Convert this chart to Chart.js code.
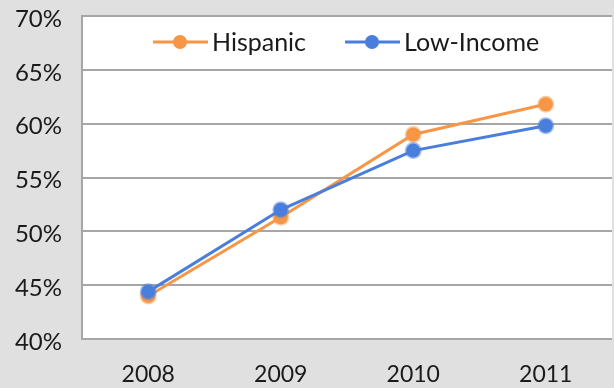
<!DOCTYPE html>
<html>
<head>
  <title>Hispanic vs Low-Income</title>
  <style>
    body {
      margin: 0;
      background-color: #E0E0E0;
      overflow: hidden;
    }

    #wrap {
      width: 622px;
      height: 388px;
      position: relative;
    }
  </style>
</head>
<body>
  <div id="wrap">
    <canvas id="chart"></canvas>
  </div>

  <script src="https://cdn.jsdelivr.net/npm/chart.js"></script>

  <script>
    // chart data
    var years = ['2008', '2009', '2010', '2011'];
    var hispanic = [44.0, 51.3, 59.0, 61.8];
    var lowIncome = [44.4, 52.0, 57.5, 59.8];
    var yTicks = [40, 45, 50, 55, 60, 65, 70];

    var orange = '#F79646';
    var blue = '#4A7EDC';
    var fontName = 'Lato, "Open Sans", sans-serif';

    // gray page, white plot area
    var backgroundPlugin = {
      id: 'background',
      beforeDraw: function(chart) {
        var ctx = chart.ctx;
        var area = chart.chartArea;
        ctx.save();
        ctx.fillStyle = '#E0E0E0';
        ctx.fillRect(0, 0, chart.width, chart.height);
        ctx.fillStyle = '#FFFFFF';
        ctx.fillRect(area.left, area.top, area.right - area.left, area.bottom - area.top);
        ctx.restore();
      }
    };

    // legend with a line and marker, drawn inside the plot
    var legendPlugin = {
      id: 'lineLegend',
      afterDraw: function(chart) {
        var ctx = chart.ctx;
        var y = chart.chartArea.top + 26;
        var items = [
          { x: 153, ds: chart.data.datasets[0] },
          { x: 345, ds: chart.data.datasets[1] }
        ];
        ctx.save();
        ctx.font = '25px ' + fontName;
        ctx.textBaseline = 'middle';
        items.forEach(function(item) {
          ctx.strokeStyle = item.ds.borderColor;
          ctx.lineWidth = 3;
          ctx.beginPath();
          ctx.moveTo(item.x, y);
          ctx.lineTo(item.x + 55, y);
          ctx.stroke();
          ctx.fillStyle = item.ds.borderColor;
          ctx.beginPath();
          ctx.arc(item.x + 27, y, 7, 0, Math.PI * 2);
          ctx.fill();
          ctx.fillStyle = '#1A1A1A';
          ctx.fillText(item.ds.label, item.x + 59, y + 1);
        });
        ctx.restore();
      }
    };

    var chartElement = document.getElementById('chart').getContext('2d');
    window.myChart = new Chart(chartElement, {
      type: 'line',
      data: {
        labels: years,
        datasets: [
          {
            label: 'Hispanic',
            data: hispanic,
            borderColor: orange,
            backgroundColor: orange,
            borderWidth: 3,
            pointRadius: 7,
            pointBorderWidth: 3,
            pointBorderColor: 'rgba(247, 150, 70, 0.5)',
            pointBackgroundColor: orange,
            order: 1
          },
          {
            label: 'Low-Income',
            data: lowIncome,
            borderColor: blue,
            backgroundColor: blue,
            borderWidth: 3,
            pointRadius: 7,
            pointBorderWidth: 3,
            pointBorderColor: 'rgba(74, 126, 220, 0.5)',
            pointBackgroundColor: blue,
            order: 0
          }
        ]
      },
      options: {
        responsive: true,
        maintainAspectRatio: false,
        animation: false,
        layout: {
          padding: { top: 16, right: 0, left: 0, bottom: 0 }
        },
        plugins: {
          legend: { display: false },
          tooltip: { enabled: false }
        },
        scales: {
          x: {
            offset: true,
            grid: { display: false, drawTicks: false },
            border: { display: false },
            ticks: {
              color: '#1A1A1A',
              font: { family: fontName, size: 23 },
              padding: 22
            },
            afterFit: function(scale) {
              scale.height = 49;
              scale.paddingLeft = 0;
              scale.paddingRight = 0;
            }
          },
          y: {
            min: 40,
            max: 70,
            afterBuildTicks: function(scale) {
              scale.ticks = yTicks.map(function(v) { return { value: v }; });
            },
            grid: {
              color: '#A6A6A6',
              lineWidth: 2,
              drawTicks: false
            },
            border: { display: true, color: '#A6A6A6', width: 2 },
            ticks: {
              color: '#1A1A1A',
              font: { family: fontName, size: 24 },
              padding: 20,
              labelOffset: 3,
              callback: function(v) { return v + '%'; }
            },
            afterFit: function(scale) {
              scale.width = 82;
              scale.paddingTop = 0;
              scale.paddingBottom = 0;
            }
          }
        }
      },
      plugins: [backgroundPlugin, legendPlugin]
    });
  </script>
</body>
</html>
